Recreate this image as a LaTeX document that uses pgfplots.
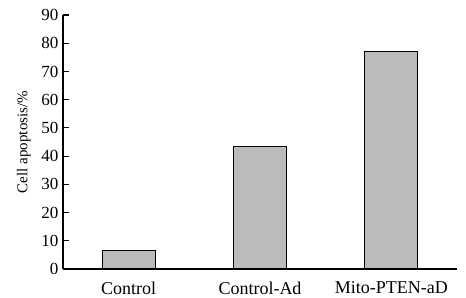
\documentclass[border=0pt]{standalone}
\usepackage{fontspec}
\setmainfont{Liberation Serif}
\usepackage{pgfplots}
\pgfplotsset{compat=1.18}
\definecolor{barfill}{HTML}{BBBBBB}
\begin{document}
\begin{tikzpicture}
\begin{axis}[
  name=ax,
  scale only axis,
  width=394pt, height=254pt,
  xmin=-0.5, xmax=2.5,
  ymin=0, ymax=90,
  axis x line=bottom, axis y line=left,
  axis line style={line width=1.4pt, -},
  ytick={0,10,...,90},
  xtick={0,1,2},
  xticklabels={Control,Control-Ad,Mito-PTEN-aD},
  extra x ticks={0.5,1.5,2.5},
  extra x tick labels={},
  extra x tick style={major tick length=6pt, tick style={line width=1.2pt, black}},
  x tick style={draw=none},
  y tick style={line width=1.2pt, black},
  major tick length=6pt,
  tick align=inside,
  /pgf/number format/assume math mode=true,
  yticklabel style={font=\fontsize{17}{19}\selectfont, xshift=-1pt},
  xticklabel style={font=\fontsize{18}{21}\selectfont, yshift=-3pt},
  ylabel={Cell apoptosis/\%},
  ylabel style={font=\fontsize{15}{18}\selectfont, yshift=4pt},
  ybar, bar width=0.405,
]
\addplot[fill=barfill, draw=black, line width=1pt] coordinates {(0,6.5) (1,43.3) (2,77)};
\end{axis}
\pgfresetboundingbox
\path ([xshift=-63pt,yshift=-29pt]ax.south west) rectangle ([xshift=9pt,yshift=15pt]ax.north east);
\end{tikzpicture}
\end{document}
